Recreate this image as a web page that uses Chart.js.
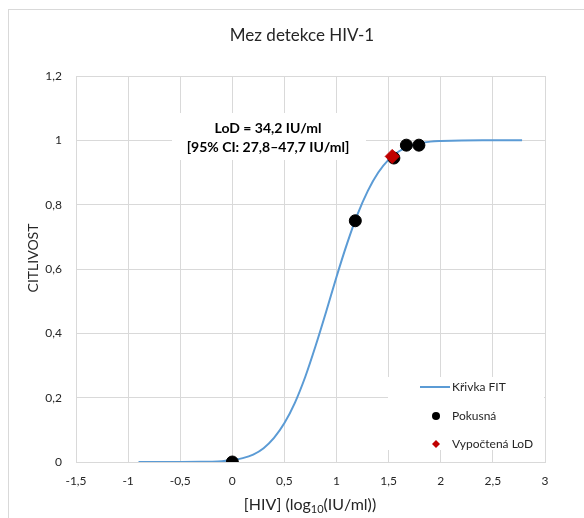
<!DOCTYPE html>
<html>
<head>
<meta charset="utf-8">
<script src="https://cdn.jsdelivr.net/npm/chart.js@4.4.1/dist/chart.umd.min.js"></script>
<style>
  html, body { margin: 0; padding: 0; background: #fff; }
  #wrap { width: 584px; height: 518px; position: relative; }
</style>
</head>
<body>
<div id="wrap"><canvas id="chart" width="584" height="518"></canvas></div>
<script>
// Hodnoty
const fitX = [-0.9, -0.5, -0.3, -0.2, -0.1, 0, 0.1, 0.2, 0.3, 0.4, 0.5, 0.6, 0.7, 0.8, 0.9, 1.0, 1.1, 1.2, 1.3, 1.4, 1.5, 1.6, 1.7, 1.8, 1.9, 2.0, 2.2, 2.4, 2.78];
const fitY = [0, 0, 0.0004, 0.001, 0.0025, 0.006, 0.012, 0.023, 0.043, 0.075, 0.121, 0.184, 0.265, 0.362, 0.467, 0.576, 0.678, 0.769, 0.843, 0.9, 0.94, 0.966, 0.982, 0.991, 0.996, 0.998, 0.9998, 1, 1];
const measX = [0, 1.18, 1.55, 1.67, 1.79];
const measY = [0, 0.75, 0.945, 0.985, 0.985];
const lodX = [1.534];
const lodY = [0.95];
const xTicks = { min: -1.5, max: 3, step: 0.5 };
const yTicks = { min: 0, max: 1.2, step: 0.2 };
const labels = {
  title: "Mez detekce HIV-1",
  yTitle: "CITLIVOST",
  xTitle: ["[HIV] (log", "10", "(IU/ml))"],
  note: ["LoD = 34,2 IU/ml", "[95% CI: 27,8–47,7 IU/ml]"],
  series: ["Křivka FIT", "Pokusná", "Vypočtená LoD"]
};

const FONT = "Lato, 'Open Sans', sans-serif";
const grid = "#d9d9d9";
const ink = "#262626";
const comma = v => String(Math.round(v * 10) / 10).replace(".", ",");
const pts = (xs, ys) => xs.map((x, i) => ({ x, y: ys[i] }));

// Rámeček, nadpis, popisky os, poznámka a legenda uvnitř grafu
const decor = {
  id: "decor",
  beforeDraw(c) {
    const ctx = c.ctx;
    ctx.save();
    ctx.fillStyle = "#fff";
    ctx.fillRect(0, 0, c.width, c.height);
    ctx.strokeStyle = grid;
    ctx.lineWidth = 1;
    ctx.strokeRect(8.5, 9.5, 700, 700);
    ctx.restore();
  },
  afterDatasetsDraw(c) {
    const ctx = c.ctx, a = c.chartArea;
    ctx.save();
    ctx.textBaseline = "middle";
    ctx.textAlign = "center";
    ctx.fillStyle = ink;
    ctx.font = "17px " + FONT;
    ctx.fillText(labels.title, 302, 36);

    // popisek osy Y
    ctx.save();
    ctx.translate(33, 258);
    ctx.rotate(-Math.PI / 2);
    ctx.font = "14px " + FONT;
    ctx.fillText(labels.yTitle, 0, 0);
    ctx.restore();

    // popisek osy X s dolním indexem
    const [p1, sub, p2] = labels.xTitle;
    ctx.font = "16px " + FONT;
    const w1 = ctx.measureText(p1).width, w3 = ctx.measureText(p2).width;
    ctx.font = "11px " + FONT;
    const w2 = ctx.measureText(sub).width;
    let x = 310 - (w1 + w2 + w3) / 2;
    const y = 505;
    ctx.textAlign = "left";
    ctx.font = "16px " + FONT;
    ctx.fillText(p1, x, y); x += w1;
    ctx.font = "11px " + FONT;
    ctx.fillText(sub, x, y + 4); x += w2;
    ctx.font = "16px " + FONT;
    ctx.fillText(p2, x, y);

    // poznámka s LoD
    ctx.fillStyle = "#fff";
    ctx.fillRect(172, 113, 194, 47);
    ctx.fillStyle = "#000";
    ctx.textAlign = "center";
    ctx.font = "bold 14px " + FONT;
    ctx.fillText(labels.note[0], 268, 128);
    ctx.fillText(labels.note[1], 268, 147);

    // legenda
    ctx.fillStyle = "#fff";
    ctx.fillRect(388, 377, a.right - 388 - 1, 73);
    const ds = c.data.datasets;
    const rows = [387, 416, 444];
    ctx.textAlign = "left";
    ctx.font = "12px " + FONT;
    rows.forEach((ry, i) => {
      const d = ds[i];
      if (i === 0) {
        ctx.strokeStyle = d.borderColor;
        ctx.lineWidth = 2;
        ctx.beginPath(); ctx.moveTo(420, ry); ctx.lineTo(450, ry); ctx.stroke();
      } else if (i === 1) {
        ctx.fillStyle = d.backgroundColor;
        ctx.beginPath(); ctx.arc(436, ry, 4, 0, Math.PI * 2); ctx.fill();
      } else {
        const r = 4;
        ctx.fillStyle = d.backgroundColor;
        ctx.beginPath();
        ctx.moveTo(436, ry - r); ctx.lineTo(436 + r, ry); ctx.lineTo(436, ry + r); ctx.lineTo(436 - r, ry);
        ctx.closePath(); ctx.fill();
      }
      ctx.fillStyle = ink;
      ctx.fillText(labels.series[i], 452, ry);
    });
    ctx.restore();
  }
};

new Chart(document.getElementById("chart"), {
  type: "scatter",
  data: {
    datasets: [
      {
        label: labels.series[0], data: pts(fitX, fitY), showLine: true,
        borderColor: "#5b9bd5", backgroundColor: "#5b9bd5", borderWidth: 2,
        pointRadius: 0, cubicInterpolationMode: "monotone", order: 3
      },
      {
        label: labels.series[1], data: pts(measX, measY), pointStyle: "circle",
        backgroundColor: "#000", borderColor: "#000", pointRadius: 6, order: 2
      },
      {
        label: labels.series[2], data: pts(lodX, lodY), pointStyle: "rectRot",
        backgroundColor: "#c00000", borderColor: "#c00000", pointRadius: 7, order: 1
      }
    ]
  },
  options: {
    responsive: false,
    animation: false,
    layout: { padding: { left: 0, right: 39, top: 76, bottom: 0 } },
    plugins: { legend: { display: false }, title: { display: false }, tooltip: { enabled: false } },
    scales: {
      x: {
        type: "linear", min: xTicks.min, max: xTicks.max,
        afterFit: s => { s.height = 56; },
        grid: { color: grid, drawTicks: false },
        border: { color: grid },
        ticks: { stepSize: xTicks.step, padding: 12, color: ink, font: { family: FONT, size: 12 }, callback: comma }
      },
      y: {
        type: "linear", min: yTicks.min, max: yTicks.max,
        afterFit: s => { s.width = 76; },
        grid: { color: grid, drawTicks: false },
        border: { color: grid },
        ticks: { stepSize: yTicks.step, padding: 14, color: ink, font: { family: FONT, size: 12 }, callback: comma }
      }
    }
  },
  plugins: [decor]
});
</script>
</body>
</html>
